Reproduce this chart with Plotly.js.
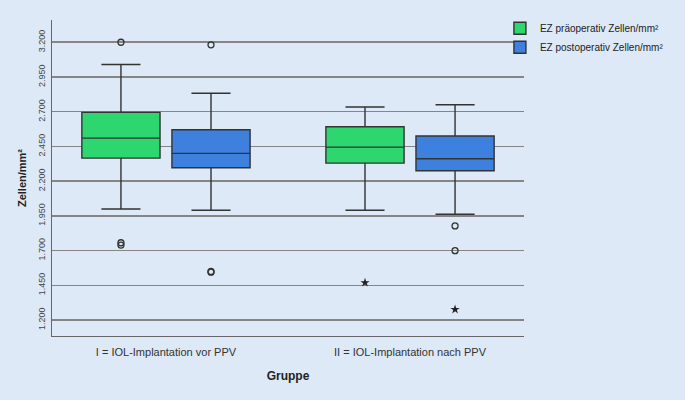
<!DOCTYPE html>
<html>
<head>
<meta charset="utf-8">
<script src="https://cdn.plot.ly/plotly-3.0.1.min.js"></script>
<style>
  html, body { margin: 0; padding: 0; background: #dde9f6; }
  #myPlot { width: 685px; height: 400px; }
</style>
</head>
<body>
<div id="myPlot"></div>
<script>
// Gruppen (Kategorien)
const groups = ['I = IOL-Implantation vor PPV', 'II = IOL-Implantation nach PPV'];

// EZ präoperativ (Zellen/mm²)
const pre_q1     = [2366, 2330];
const pre_median = [2510, 2445];
const pre_q3     = [2695, 2592];
const pre_lower  = [2000, 1991];
const pre_upper  = [3040, 2734];

// EZ postoperativ (Zellen/mm²)
const post_q1     = [2297, 2275];
const post_median = [2400, 2361];
const post_q3     = [2570, 2525];
const post_lower  = [1991, 1962];
const post_upper  = [2833, 2750];

// Ausreißer (Kreis) und Extremwerte (Stern)
const pre_out_x   = [groups[0], groups[0], groups[0]];
const pre_out_y   = [3200, 1757, 1740];
const pre_ext_x   = [groups[1]];
const pre_ext_y   = [1470];
const post_out_x  = [groups[0], groups[0], groups[0], groups[1], groups[1]];
const post_out_y  = [3181, 1550, 1545, 1878, 1700];
const post_ext_x  = [groups[1]];
const post_ext_y  = [1277];

const yTicks = [1200, 1450, 1700, 1950, 2200, 2450, 2700, 2950, 3200];

function make_plot() {
  var boxLine = {color: '#333', width: 1.4};

  var pre = {
    type: 'box',
    name: 'EZ präoperativ Zellen/mm²',
    x: groups,
    q1: pre_q1, median: pre_median, q3: pre_q3,
    lowerfence: pre_lower, upperfence: pre_upper,
    boxpoints: false,
    fillcolor: '#2ed670',
    line: boxLine,
    whiskerwidth: 0.5,
    offsetgroup: 'pre',
    hoverinfo: 'skip'
  };

  var post = {
    type: 'box',
    name: 'EZ postoperativ Zellen/mm²',
    x: groups,
    q1: post_q1, median: post_median, q3: post_q3,
    lowerfence: post_lower, upperfence: post_upper,
    boxpoints: false,
    fillcolor: '#3e80de',
    line: boxLine,
    whiskerwidth: 0.5,
    offsetgroup: 'post',
    hoverinfo: 'skip'
  };

  function outliers(x, y, grp, symbol) {
    return {
      type: 'scatter',
      mode: 'markers',
      x: x, y: y,
      offsetgroup: grp,
      showlegend: false,
      hoverinfo: 'skip',
      marker: symbol === 'star'
        ? {symbol: 'star', size: 7, color: '#222'}
        : {symbol: 'circle-open', size: 6, color: '#333', line: {width: 1.3, color: '#333'}}
    };
  }

  var data = [
    pre, post,
    outliers(pre_out_x, pre_out_y, 'pre', 'circle'),
    outliers(pre_ext_x, pre_ext_y, 'pre', 'star'),
    outliers(post_out_x, post_out_y, 'post', 'circle'),
    outliers(post_ext_x, post_ext_y, 'post', 'star')
  ];

  var layout = {
    width: 685,
    height: 400,
    paper_bgcolor: '#dde9f6',
    plot_bgcolor: '#dde9f6',
    font: {family: 'Liberation Sans, Arial, sans-serif', size: 11, color: '#333'},
    separators: ',.',
    margin: {l: 52, r: 161, t: 20, b: 64, autoexpand: false},
    boxmode: 'group',
    boxgap: 0.262,
    boxgroupgap: 0.132,
    scattermode: 'group',
    scattergap: 0.262,
    showlegend: true,
    legend: {
      x: 0.949, xanchor: 'left',
      y: 1.02, yanchor: 'top',
      bgcolor: 'rgba(0,0,0,0)',
      font: {size: 10, color: '#222'},
      itemwidth: 30,
      tracegroupgap: 0
    },
    xaxis: {
      type: 'category',
      range: [-0.467, 1.467],
      showgrid: false,
      zeroline: false,
      showline: true,
      linecolor: '#666',
      linewidth: 1,
      ticks: '',
      ticklabelstandoff: 6,
      tickfont: {size: 11, color: '#333'},
      title: {text: '<b>Gruppe</b>', font: {size: 12, color: '#222'}, standoff: 14}
    },
    yaxis: {
      range: [1086, 3360],
      tickvals: yTicks,
      tickformat: ',d',
      tickangle: -90,
      tickfont: {size: 9, color: '#444'},
      ticks: '',
      ticklabelstandoff: 2,
      showgrid: true,
      gridcolor: '#858585',
      gridwidth: 1.5,
      zeroline: false,
      showline: true,
      linecolor: '#666',
      linewidth: 1,
      title: {text: '<b>Zellen/mm²</b>', font: {size: 11, color: '#222'}, standoff: 8}
    },
    shapes: [{
      type: 'line', xref: 'paper', x0: 0, x1: 1,
      yref: 'y', y0: 2200, y1: 2200,
      line: {color: '#333', width: 1.5},
      layer: 'below'
    }]
  };

  Plotly.newPlot('myPlot', data, layout, {displayModeBar: false, staticPlot: true});
}

make_plot();
</script>
</body>
</html>
